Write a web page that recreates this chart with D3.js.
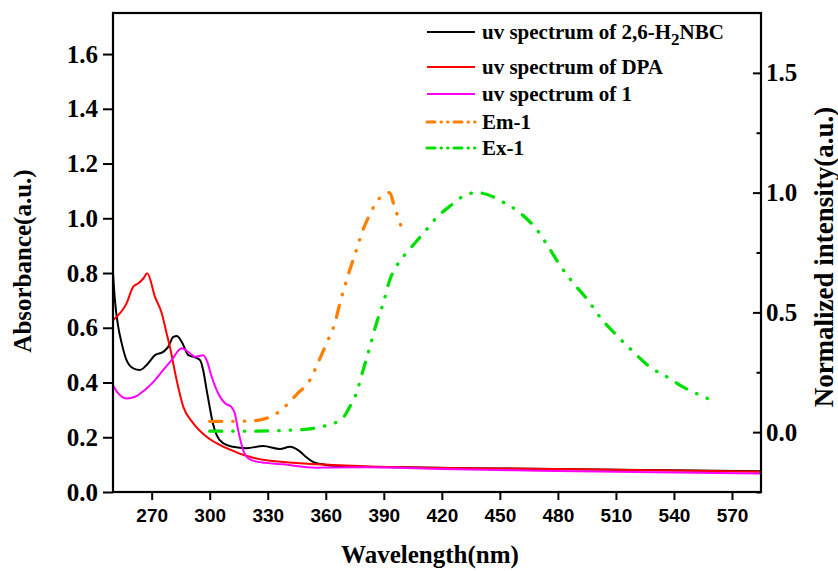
<!DOCTYPE html>
<html>
<head>
<meta charset="utf-8">
<script src="https://cdn.jsdelivr.net/npm/d3@7"></script>
<style>
  html, body { margin: 0; padding: 0; background: #fff; }
  svg { display: block; }
  .serif { font-family: "Liberation Serif", "Times New Roman", serif; font-weight: bold; }
  .sans { font-family: "Liberation Sans", Arial, sans-serif; font-weight: bold; }
</style>
</head>
<body>
<svg id="chart" width="838" height="571"></svg>
<script>
// UV absorbance spectra (left axis) and normalized luminescence spectra (right axis)

// 2,6-H2NBC absorbance
const h2nbcNm  = [250, 251, 252.7, 254.5, 257, 260.5, 264, 267.4, 271.7, 276, 278.6, 281.2, 283, 285.5, 289, 292.4, 295, 296.6, 298.4, 300, 301.5, 303.6, 307, 312, 319, 327.6, 336.3, 341.4, 345.7, 350, 354.4, 360.4, 367, 400, 450, 500, 550, 585];
const h2nbcAbs = [0.80, 0.70, 0.604, 0.543, 0.482, 0.452, 0.446, 0.464, 0.50, 0.512, 0.531, 0.567, 0.57, 0.549, 0.50, 0.492, 0.482, 0.446, 0.373, 0.31, 0.255, 0.208, 0.178, 0.165, 0.16, 0.168, 0.157, 0.165, 0.153, 0.127, 0.107, 0.099, 0.095, 0.09, 0.086, 0.082, 0.079, 0.076];

// DPA absorbance
const dpaNm  = [250, 257, 260.5, 263, 265.7, 267.7, 271.7, 275.2, 277.7, 279.4, 282.9, 286.3, 291.5, 298.4, 308.7, 322.5, 346.6, 363.8, 400, 450, 500, 550, 585];
const dpaAbs = [0.628, 0.689, 0.75, 0.762, 0.78, 0.799, 0.713, 0.653, 0.58, 0.531, 0.409, 0.312, 0.251, 0.202, 0.16, 0.125, 0.105, 0.099, 0.09, 0.086, 0.082, 0.078, 0.074];

// Compound 1 absorbance
const cpd1Nm  = [250, 252.7, 257, 261.4, 266.5, 271.7, 276, 280.3, 285.5, 289.8, 292.4, 296.6, 298.4, 301, 304.4, 307.9, 311.3, 313, 314.7, 317.3, 319.9, 324.2, 338, 355, 381, 420, 470, 520, 585];
const cpd1Abs = [0.39, 0.36, 0.342, 0.348, 0.373, 0.409, 0.446, 0.482, 0.525, 0.507, 0.494, 0.50, 0.482, 0.421, 0.36, 0.324, 0.31, 0.287, 0.226, 0.153, 0.123, 0.111, 0.101, 0.089, 0.09, 0.084, 0.078, 0.073, 0.068];

// Em-1 normalized intensity
const emNm  = [300, 310, 320.8, 332, 339.7, 345, 351.8, 356, 360.4, 364.7, 367.3, 371.6, 375.9, 379.3, 382.8, 387.1, 390.5, 392.8, 395.7, 398.3, 400.3];
const emInt = [0.045, 0.045, 0.046, 0.066, 0.113, 0.158, 0.217, 0.29, 0.371, 0.455, 0.538, 0.657, 0.762, 0.846, 0.909, 0.971, 0.992, 1.0, 0.937, 0.874, 0.825];

// Ex-1 normalized intensity
const exNm  = [300, 320, 346.6, 360.4, 365.6, 369, 372, 375.9, 379.3, 382.8, 386.2, 389.7, 393.1, 396.5, 400.9, 406.9, 412.1, 417.2, 424.1, 431, 437.9, 444.8, 450.8, 460.3, 469.7, 474.9, 480.9, 488.7, 494.7, 501.6, 511.1, 518, 527.4, 537.8, 544.6, 551.6, 558.4];
const exInt = [0.004, 0.004, 0.01, 0.028, 0.042, 0.06, 0.10, 0.165, 0.259, 0.356, 0.455, 0.538, 0.636, 0.692, 0.741, 0.797, 0.846, 0.895, 0.943, 0.985, 1.0, 0.988, 0.964, 0.916, 0.839, 0.776, 0.699, 0.615, 0.559, 0.482, 0.398, 0.343, 0.273, 0.224, 0.189, 0.161, 0.137];

// Axis ticks
const xTicks = [270, 300, 330, 360, 390, 420, 450, 480, 510, 540, 570];
const leftTicks = [0.0, 0.2, 0.4, 0.6, 0.8, 1.0, 1.2, 1.4, 1.6];
const rightTicks = [0.0, 0.5, 1.0, 1.5];
const rightMinorTicks = [-0.25, 0.25, 0.75, 1.25];

const series = [
  { label: "uv spectrum of 2,6-H", sub: "2", tail: "NBC", nm: h2nbcNm, v: h2nbcAbs, axis: "left", color: "#000000", dash: null },
  { label: "uv spectrum of DPA", nm: dpaNm, v: dpaAbs, axis: "left", color: "#ff0000", dash: null },
  { label: "uv spectrum of 1", nm: cpd1Nm, v: cpd1Abs, axis: "left", color: "#ff00ff", dash: null },
  { label: "Em-1", nm: emNm, v: emInt, axis: "right", color: "#ff8000", dash: "12,11,0.5,11,0.5,11" },
  { label: "Ex-1", nm: exNm, v: exInt, axis: "right", color: "#00e000", dash: "12,11,0.5,11,0.5,11" }
];

const svg = d3.select("#chart");
const L = 113, R = 761, T = 13, B = 492;

const x = d3.scaleLinear().domain([250, 585]).range([L, R]);
const yL = d3.scaleLinear().domain([0, 1.75]).range([B, T]);
const yR = d3.scaleLinear().domain([-0.25, 1.75]).range([B, T]);

svg.append("defs").append("clipPath").attr("id", "plotClip")
  .append("rect").attr("x", L).attr("y", T).attr("width", R - L).attr("height", B - T);

// Curves
const plot = svg.append("g").attr("clip-path", "url(#plotClip)");
series.forEach(s => {
  const ys = s.axis === "left" ? yL : yR;
  const pts = s.nm.map((n, i) => [n, s.v[i]]);
  const line = d3.line().x(d => x(d[0])).y(d => ys(d[1])).curve(d3.curveMonotoneX);
  const p = plot.append("path").datum(pts)
    .attr("d", line)
    .attr("fill", "none")
    .attr("stroke", s.color)
    .attr("stroke-linejoin", "round");
  if (s.dash) {
    p.attr("stroke-width", 3.3).attr("stroke-dasharray", s.dash).attr("stroke-linecap", "round");
  } else {
    p.attr("stroke-width", 2);
  }
});

// Axes
function styleAxis(g, cls, size) {
  g.select(".domain").remove();
  g.selectAll(".tick line").attr("stroke", "#000").attr("stroke-width", 2);
  g.selectAll(".tick text").attr("class", cls).attr("font-size", size).attr("fill", "#000");
}

const xAxis = svg.append("g").attr("transform", `translate(0,${B})`)
  .call(d3.axisBottom(x).tickValues(xTicks).tickSize(8).tickPadding(4).tickFormat(d3.format("d")));
styleAxis(xAxis, "sans", 19);
xAxis.selectAll(".tick text").attr("dy", "0.95em");

const leftAxis = svg.append("g").attr("transform", `translate(${L},0)`)
  .call(d3.axisLeft(yL).tickValues(leftTicks).tickSize(10).tickPadding(5).tickFormat(d3.format(".1f")));
styleAxis(leftAxis, "serif", 25);

const rightAxis = svg.append("g").attr("transform", `translate(${R},0)`)
  .call(d3.axisRight(yR).tickValues(rightTicks).tickSize(-8).tickPadding(5).tickFormat(d3.format(".1f")));
styleAxis(rightAxis, "serif", 25);

const rightMinor = svg.append("g").attr("transform", `translate(${R},0)`)
  .call(d3.axisRight(yR).tickValues(rightMinorTicks).tickSize(-4.5).tickFormat(""));
rightMinor.select(".domain").remove();
rightMinor.selectAll(".tick line").attr("stroke", "#000").attr("stroke-width", 2);

// Frame
svg.append("rect").attr("x", L).attr("y", T).attr("width", R - L).attr("height", B - T)
  .attr("fill", "none").attr("stroke", "#000").attr("stroke-width", 2.2);

// Axis titles
svg.append("text").attr("class", "serif").attr("font-size", 25)
  .attr("x", 430).attr("y", 563).attr("text-anchor", "middle").text("Wavelength(nm)");
svg.append("text").attr("class", "serif").attr("font-size", 25)
  .attr("transform", "translate(31,261) rotate(-90)").attr("text-anchor", "middle").text("Absorbance(a.u.)");
svg.append("text").attr("class", "serif").attr("font-size", 27)
  .attr("transform", "translate(833,257) rotate(-90)").attr("text-anchor", "middle").text("Normalized intensity(a.u.)");

// Legend
const legendRows = [32, 67, 94, 122, 148];
const legend = svg.append("g");
series.forEach((s, i) => {
  const yy = legendRows[i];
  const ln = legend.append("line").attr("x1", 427).attr("x2", 475).attr("y1", yy).attr("y2", yy)
    .attr("stroke", s.color);
  if (s.dash) {
    ln.attr("stroke-width", 3).attr("stroke-dasharray", "8,6,0.5,6,0.5,6").attr("stroke-linecap", "round");
  } else {
    ln.attr("stroke-width", 2);
  }
  const t = legend.append("text").attr("class", "serif").attr("font-size", 21)
    .attr("x", 482).attr("y", yy + 7);
  t.append("tspan").text(s.label);
  if (s.sub) {
    t.append("tspan").attr("dy", 6).attr("font-size", 17).text(s.sub);
    t.append("tspan").attr("dy", -6).text(s.tail);
  }
});
</script>
</body>
</html>
